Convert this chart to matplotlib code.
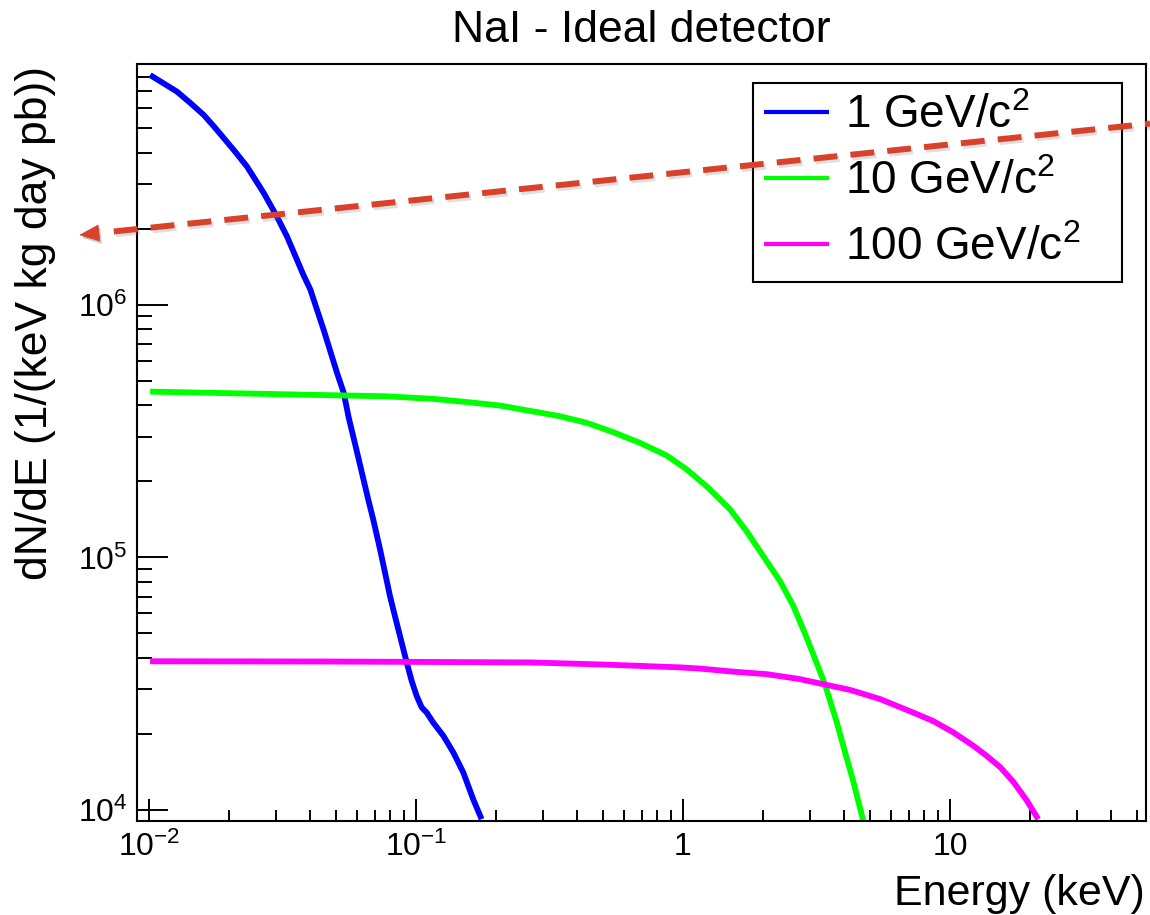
import numpy as np
import matplotlib
matplotlib.use("Agg")
import matplotlib.pyplot as plt
from matplotlib.ticker import FixedLocator, FixedFormatter, LogLocator, NullFormatter
from matplotlib.lines import Line2D
from matplotlib.patches import Polygon
import matplotlib.patheffects as pe

plt.rcParams['font.family'] = ['Liberation Sans', 'DejaVu Sans']
plt.rcParams['mathtext.fontset'] = 'custom'
plt.rcParams['mathtext.rm'] = 'Liberation Sans'
plt.rcParams['mathtext.it'] = 'Liberation Sans:italic'
plt.rcParams['mathtext.bf'] = 'Liberation Sans:bold'

# spectra (keV, 1/(keV kg day pb))
energy_1gev = [0.0101, 0.01132, 0.01274, 0.01426, 0.01603, 0.01745, 0.01905,
               0.0210, 0.0233, 0.0269, 0.0301, 0.0329, 0.0358, 0.0379, 0.0402,
               0.0426, 0.0451, 0.0478, 0.0506, 0.0536, 0.0560, 0.0592, 0.0663,
               0.0692, 0.0733, 0.0766, 0.0799, 0.0834, 0.0871, 0.0923, 0.0964,
               0.1006, 0.105, 0.1097, 0.116, 0.1265, 0.138, 0.1503, 0.164, 0.1761]
rate_1gev = [8.11e6, 7.53e6, 6.97e6, 6.30e6, 5.64e6, 5.10e6, 4.57e6,
             4.04e6, 3.52e6, 2.77e6, 2.24e6, 1.86e6, 1.51e6, 1.31e6, 1.15e6,
             9.55e5, 7.96e5, 6.53e5, 5.38e5, 4.49e5, 3.57e5, 2.80e5, 1.69e5,
             1.41e5, 1.08e5, 8.69e4, 7.03e4, 5.86e4, 4.89e4, 3.84e4, 3.24e4,
             2.83e4, 2.55e4, 2.43e4, 2.22e4, 1.97e4, 1.69e4, 1.41e4, 1.10e4, 9.2e3]

energy_10gev = [0.0101, 0.0778, 0.116, 0.1549, 0.2065, 0.2749, 0.346, 0.4355,
                0.548, 0.690, 0.869, 1.032, 1.227, 1.50, 1.73,
                2.00, 2.31, 2.59, 2.82, 2.99, 3.40, 3.77, 3.98, 4.35, 4.73]
rate_10gev = [4.53e5, 4.34e5, 4.24e5, 4.12e5, 3.99e5, 3.78e5, 3.62e5, 3.41e5,
              3.13e5, 2.84e5, 2.53e5, 2.23e5, 1.91e5, 1.55e5, 1.27e5,
              1.01e5, 8.05e4, 6.42e4, 5.19e4, 4.46e4, 3.15e4, 2.22e4, 1.80e4,
              1.29e4, 9.08e3]

energy_100gev = [0.0101, 0.05, 0.267, 0.49, 0.974, 1.158, 1.54, 2.06, 2.73, 3.35,
                 4.22, 5.47, 7.29, 8.65, 10.29, 12.2, 13.7, 15.4, 17.3, 19.4, 21.4]
rate_100gev = [3.88e4, 3.87e4, 3.84e4, 3.77e4, 3.67e4, 3.63e4, 3.53e4, 3.45e4,
               3.30e4, 3.15e4, 2.99e4, 2.75e4, 2.43e4, 2.25e4, 2.03e4, 1.80e4,
               1.64e4, 1.48e4, 1.29e4, 1.09e4, 9.2e3]

labels = ["1 GeV/c$^{2}$", "10 GeV/c$^{2}$", "100 GeV/c$^{2}$"]
colors = ["#0000ff", "#00ff00", "#ff00ff"]

xticks = [0.01, 0.1, 1, 10]
xtick_labels = ["$10^{-2}$", "$10^{-1}$", "1", "10"]
yticks = [1e4, 1e5, 1e6]
ytick_labels = ["$10^{4}$", "$10^{5}$", "$10^{6}$"]

W, H = 1150, 915
fig = plt.figure(figsize=(W / 100, H / 100), dpi=100)
ax = fig.add_axes([137 / W, 1 - 821 / H, (1146 - 137) / W, (821 - 64) / H])

for xs, ys, lab, c in zip([energy_1gev, energy_10gev, energy_100gev],
                          [rate_1gev, rate_10gev, rate_100gev], labels, colors):
    ax.plot(xs, ys, color=c, lw=4.2, label=lab, solid_capstyle='butt',
            solid_joinstyle='round')

ax.set_xscale('log')
ax.set_yscale('log')
ax.set_xlim(0.00902, 54.2)
ax.set_ylim(9050, 8.97e6)

ax.xaxis.set_major_locator(FixedLocator(xticks))
ax.xaxis.set_major_formatter(FixedFormatter(xtick_labels))
ax.yaxis.set_major_locator(FixedLocator(yticks))
ax.yaxis.set_major_formatter(FixedFormatter(ytick_labels))
ax.xaxis.set_minor_locator(LogLocator(base=10, subs=range(2, 10), numticks=20))
ax.yaxis.set_minor_locator(LogLocator(base=10, subs=range(2, 10), numticks=20))
ax.xaxis.set_minor_formatter(NullFormatter())
ax.yaxis.set_minor_formatter(NullFormatter())

ax.tick_params(axis='x', which='major', direction='in', length=15.8, width=1.4,
               labelsize=23, pad=8)
ax.tick_params(axis='x', which='minor', direction='in', length=7.9, width=1.4)
ax.tick_params(axis='y', which='major', direction='in', length=22.3, width=1.4,
               labelsize=23, pad=7)
ax.tick_params(axis='y', which='minor', direction='in', length=10.8, width=1.4)
for s in ax.spines.values():
    s.set_linewidth(1.5)

fig.text(641.5 / W, 1 - 42 / H, "NaI - Ideal detector", ha='center',
         va='baseline', fontsize=32)
fig.text(47 / W, 1 - 66 / H, "dN/dE (1/(keV kg day pb))", rotation=90,
         rotation_mode='anchor', ha='right', va='baseline', fontsize=32)
fig.text(1145 / W, 1 - 905 / H, "Energy (keV)", ha='right', va='baseline',
         fontsize=31)

leg = ax.legend(loc='upper left',
                bbox_to_anchor=((753 - 137) / 1009, (821 - 83) / 757,
                                (1122 - 753) / 1009, 0),
                mode='expand', fontsize=33, frameon=True, fancybox=False,
                edgecolor='black', framealpha=1, borderpad=0.25,
                labelspacing=0.48, handlelength=1.4, handletextpad=0.35,
                borderaxespad=0)
leg.get_frame().set_linewidth(1.5)
for h in leg.legend_handles:
    h.set_linewidth(3)

# red dashed arrow pointing at the y-axis label
red = "#d9412b"
x_right, y_right = 1150, 123.6
tip = np.array([80.0, 235.0])
u = np.array([x_right, y_right]) - tip
u = u / np.hypot(*u)
nrm = np.array([-u[1], u[0]])
base = tip + 19 * u
line_start = tip + 34 * u
shadow = [pe.SimpleLineShadow(offset=(1.5, -2), alpha=0.25, shadow_color='gray'),
          pe.Normal()]
line = Line2D([line_start[0] / W, x_right / W], [1 - line_start[1] / H, 1 - y_right / H],
              transform=fig.transFigure, color=red, lw=4.3,
              linestyle=(0, (4.0, 2.2)), solid_capstyle='butt',
              path_effects=shadow, zorder=5)
fig.add_artist(line)
pts = np.array([tip, base + 8 * nrm, base - 8 * nrm])
head = Polygon(np.column_stack([pts[:, 0] / W, 1 - pts[:, 1] / H]),
               closed=True, transform=fig.transFigure, facecolor=red,
               edgecolor=red, lw=0.5, zorder=5,
               path_effects=[pe.SimplePatchShadow(offset=(1.5, -2), alpha=0.25),
                             pe.Normal()])
fig.add_artist(head)

fig.savefig("out.png", dpi=100, facecolor='white')
